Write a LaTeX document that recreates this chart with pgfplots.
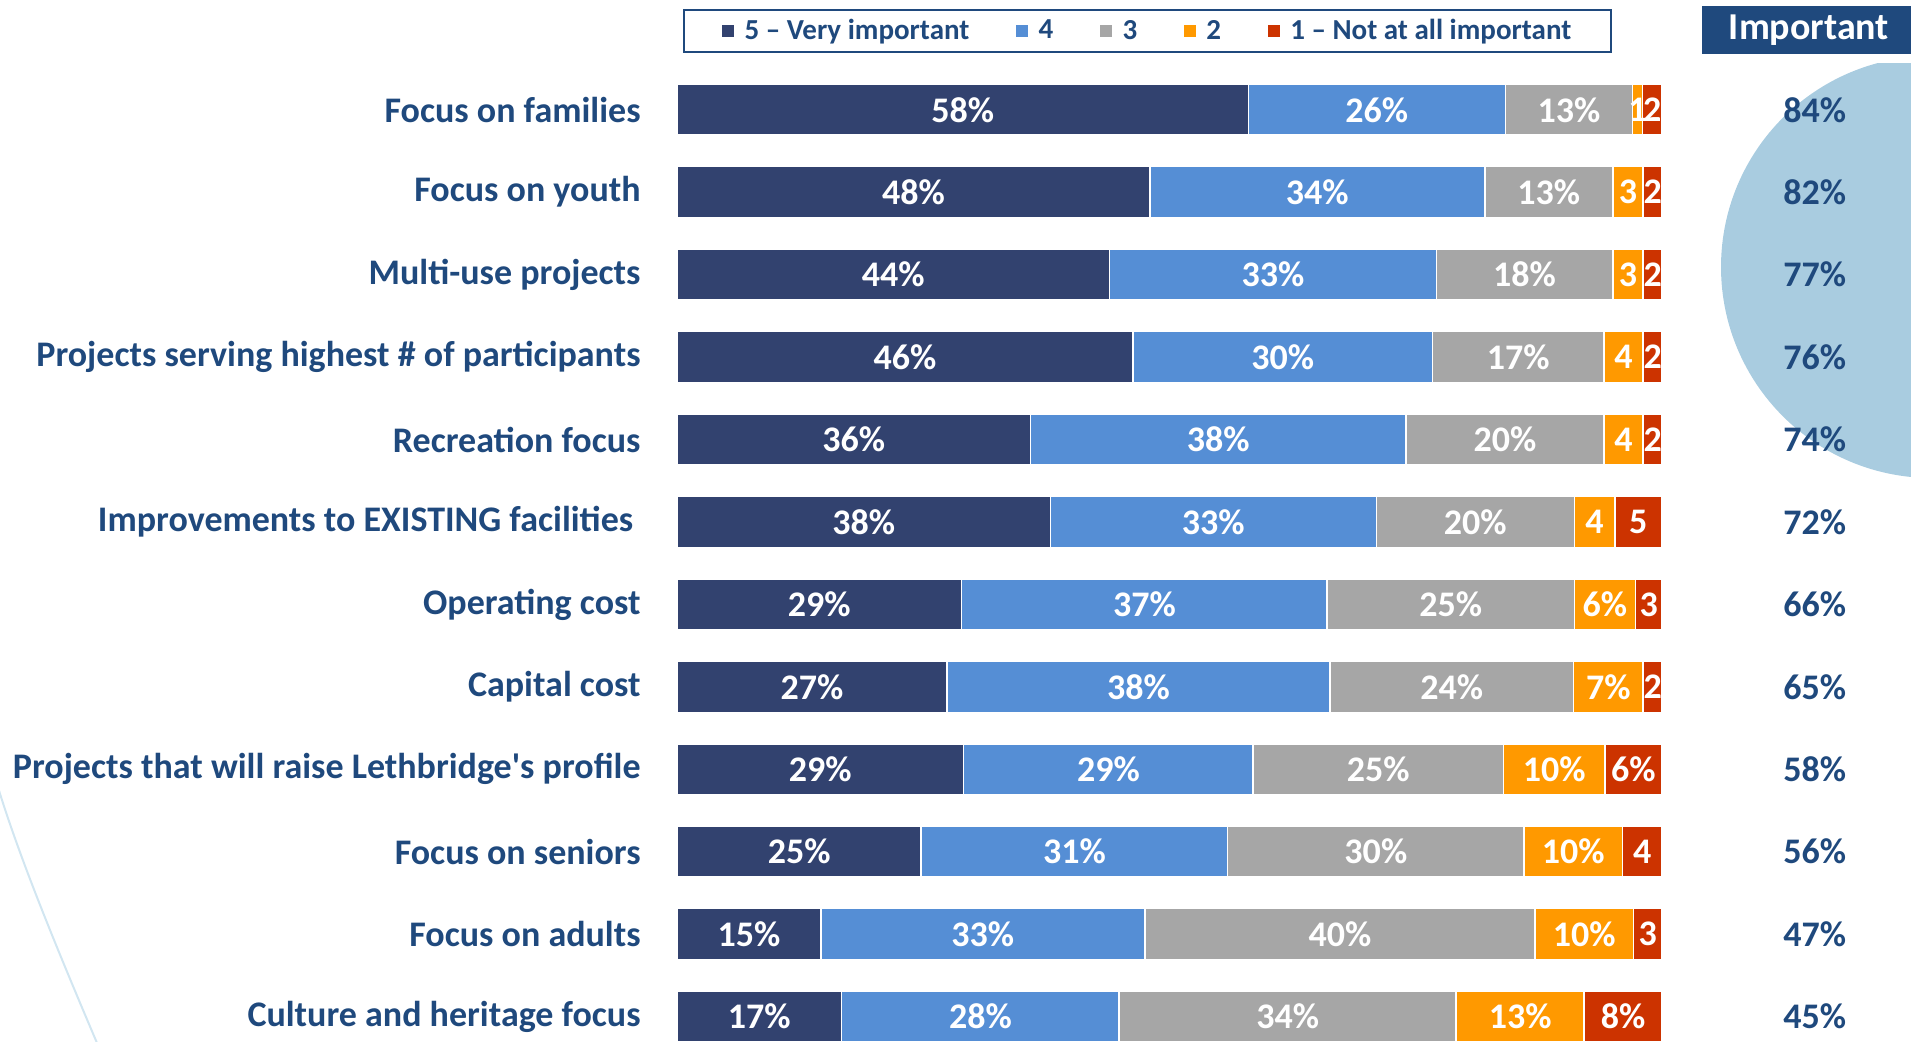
\documentclass[border=0pt]{standalone}
\usepackage{pgfplots}
\pgfplotsset{compat=1.18}
\usepackage{pgfplotstable}
\usepackage{fontspec}
\setmainfont{Carlito}[Ligatures=TeXOff]
\definecolor{txtblue}{HTML}{1F497D}
\definecolor{cfive}{HTML}{32426F}
\definecolor{cfour}{HTML}{558ED5}
\definecolor{cthree}{HTML}{A6A6A6}
\definecolor{ctwo}{HTML}{FF9900}
\definecolor{cone}{HTML}{CC3300}
\definecolor{circ}{HTML}{A9CCE0}
\definecolor{arcc}{HTML}{D2E6F1}
\newcommand\bigf{\fontsize{18}{21}\selectfont\bfseries}
\newcommand\legf{\fontsize{14.5}{17}\selectfont\bfseries}

\pgfplotstableread{
y w lab
1 58.0 58\%
2 48.0 48\%
3 43.9 44\%
4 46.3 46\%
5 35.9 36\%
6 37.9 38\%
7 28.9 29\%
8 27.4 27\%
9 29.1 29\%
10 24.8 25\%
11 14.6 15\%
12 16.7 17\%
}\tfive
\pgfplotstableread{
y w lab
1 26.1 26\%
2 34.0 34\%
3 33.2 33\%
4 30.4 30\%
5 38.1 38\%
6 33.1 33\%
7 37.1 37\%
8 38.9 38\%
9 29.4 29\%
10 31.1 31\%
11 32.9 33\%
12 28.2 28\%
}\tfour
\pgfplotstableread{
y w lab
1 12.9 13\%
2 13.0 13\%
3 17.9 18\%
4 17.4 17\%
5 20.1 20\%
6 20.1 20\%
7 25.1 25\%
8 24.7 24\%
9 25.4 25\%
10 30.1 30\%
11 39.6 40\%
12 34.2 34\%
}\tthree
\pgfplotstableread{
y w lab
1 1.0 1
2 3.1 3
3 3.1 3
4 4.0 4
5 4.0 4
6 4.1 4
7 6.2 6\%
8 7.1 7\%
9 10.3 10\%
10 10.0 10\%
11 10.0 10\%
12 13.0 13\%
}\ttwo
\pgfplotstableread{
y w lab
1 2.0 2
2 1.9 2
3 1.9 2
4 1.9 2
5 1.9 2
6 4.8 5
7 2.7 3
8 1.9 2
9 5.8 6\%
10 4.0 4
11 2.9 3
12 7.9 8\%
}\tone
\pgfplotstableread{
y lab
1 84\%
2 82\%
3 77\%
4 76\%
5 74\%
6 72\%
7 66\%
8 65\%
9 58\%
10 56\%
11 47\%
12 45\%
}\timp

\pgfplotsset{seg/.style={fill=#1, draw=white, line width=0.8pt,
  nodes near coords, point meta=explicit symbolic,
  nodes near coords align={center},
  every node near coord/.append style={font=\bigf, text=white, anchor=center}}}

\begin{document}
\begin{tikzpicture}
\path[use as bounding box] (0,0) rectangle (955.5pt,-520.5pt);
% decorative shapes
\begin{scope}
\clip (0,-31.5pt) rectangle (960pt,-530pt);
\fill[circ] (966pt,-133.5pt) circle (105.5pt);
\end{scope}
\draw[arcc, line width=1pt] (-1.5pt,-392pt) .. controls (10pt,-430pt) and (30pt,-478pt) .. (50pt,-525pt);
% header
\fill[txtblue] (851pt,-3pt) rectangle (956pt,-26.75pt);
\node[text=white, font=\fontsize{19}{22}\selectfont\bfseries, inner sep=0pt] at (904.5pt,-15pt) {Important};

\begin{axis}[
  at={(338.5pt,-34.25pt)}, anchor=north west,
  scale only axis, width=492.5pt, height=494.65pt,
  xbar stacked, bar width=25.5pt,
  xmin=0, xmax=100, ymin=0.5, ymax=12.5, y dir=reverse,
  axis line style={draw=none}, xtick=\empty,
  ytick={1,...,12}, major tick length=0pt,
  yticklabels={Focus on families, Focus on youth, Multi-use projects,
    Projects serving highest \# of participants, Recreation focus,
    Improvements to EXISTING facilities\hspace*{3.7pt}, Operating cost, Capital cost,
    Projects that will raise Lethbridge's profile, Focus on seniors,
    Focus on adults, Culture and heritage focus},
  yticklabel style={font=\bigf, text=txtblue, anchor=east, inner sep=0pt, xshift=-18pt},
  clip=false,
  legend columns=5,
  legend style={at={(0.478,1)}, anchor=center, yshift=18.75pt,
    draw=txtblue, line width=1pt, font=\legf, text=txtblue,
    inner xsep=18pt, inner ysep=2.5pt,
    /tikz/every even column/.append style={column sep=20.5pt}},
  legend image code/.code={\fill[#1] (0pt,-3.4pt) rectangle (6.8pt,3.4pt); \path (9.3pt,0pt);},
]
\addplot[seg=cfive] table[x=w, y=y, meta=lab] {\tfive};
\addlegendentry{5 – Very important}
\addplot[seg=cfour] table[x=w, y=y, meta=lab] {\tfour};
\addlegendentry{4}
\addplot[seg=cthree] table[x=w, y=y, meta=lab] {\tthree};
\addlegendentry{3}
\addplot[seg=ctwo] table[x=w, y=y, meta=lab] {\ttwo};
\addlegendentry{2}
\addplot[seg=cone] table[x=w, y=y, meta=lab] {\tone};
\addlegendentry{1 – Not at all important}
\end{axis}

\begin{axis}[
  at={(338.5pt,-34.25pt)}, anchor=north west,
  scale only axis, width=492.5pt, height=494.65pt,
  xmin=0, xmax=100, ymin=0.5, ymax=12.5, y dir=reverse,
  hide axis, clip=false,
]
\addplot[draw=none, mark=none, nodes near coords, point meta=explicit symbolic,
  nodes near coords align={center},
  every node near coord/.style={font=\fontsize{18}{21}\selectfont\bfseries, text=txtblue, anchor=center}]
  table[x expr=115.5, y=y, meta=lab] {\timp};
\end{axis}
\end{tikzpicture}
\end{document}
